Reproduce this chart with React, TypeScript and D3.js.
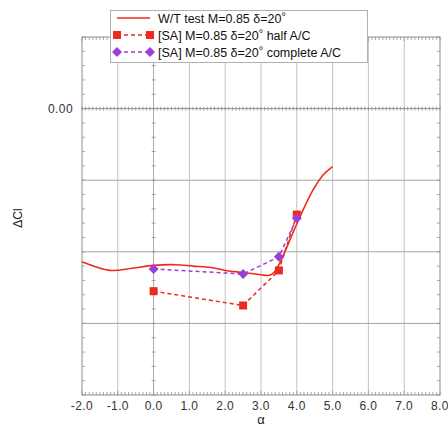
import React from "react";
import * as d3 from "d3";

const wtAlpha = [-2.0, -1.22, -0.6, 0.0, 0.6, 1.1, 1.6, 2.0, 2.5, 3.0, 3.2, 3.34, 3.53, 3.81, 4.09, 4.45, 4.73, 5.0];
const wtDCl = [-0.214, -0.226, -0.223, -0.219, -0.218, -0.22, -0.222, -0.226, -0.229, -0.232, -0.233, -0.23, -0.215, -0.183, -0.151, -0.114, -0.093, -0.081];

const halfAlpha = [0.0, 2.5, 3.5, 4.0];
const halfDCl = [-0.255, -0.275, -0.226, -0.148];

const compAlpha = [0.0, 2.5, 3.5, 4.0];
const compDCl = [-0.224, -0.231, -0.207, -0.153];

const xTicks = [-2, -1, 0, 1, 2, 3, 4, 5, 6, 7, 8];
const yGrid = [-0.1, -0.2, -0.3];
const yLabelTicks = [0];

const legendLabels = [
  "W/T test M=0.85 \u03b4=20",
  "[SA] M=0.85 \u03b4=20",
  "[SA] M=0.85 \u03b4=20",
];
const legendSuffix = ["", " half A/C", " complete A/C"];

const RED = "#ee2a1f";
const PURPLE = "#9b3fd6";
const FONT = "'Liberation Sans', Arial, sans-serif";

export default function App() {
  const W = 448, H = 429;
  const L = 82, R = 440, T = 37, B = 395;
  const x = d3.scaleLinear().domain([-2, 8]).range([L, R]);
  const y = d3.scaleLinear().domain([-0.4, 0.1]).range([B, T]);

  const line = d3.line<[number, number]>().x(d => x(d[0])).y(d => y(d[1]));
  const smooth = d3.line<[number, number]>().x(d => x(d[0])).y(d => y(d[1])).curve(d3.curveCatmullRom.alpha(0.5));

  const wt: [number, number][] = wtAlpha.map((a, i) => [a, wtDCl[i]]);
  const half: [number, number][] = halfAlpha.map((a, i) => [a, halfDCl[i]]);
  const comp: [number, number][] = compAlpha.map((a, i) => [a, compDCl[i]]);

  const xMinor = d3.range(-20, 81).map(v => v / 10);
  const yMinor = d3.range(-20, 6).map(v => v / 50);

  const sq = 8;
  const dm = 5;
  const diamond = (cx: number, cy: number) => `M${cx},${cy - dm}L${cx + dm},${cy}L${cx},${cy + dm}L${cx - dm},${cy}Z`;

  const gridC = "#c4c4c4";
  const axC = "#909090";

  return (
    <svg width={W} height={H} style={{ position: "absolute", left: 0, top: 0 }}>
      <rect x={0} y={0} width={W} height={H} fill="#fff" />
      {xTicks.filter(t => t > -2 && t < 8).map(t => (
        <line key={"vg" + t} x1={x(t)} x2={x(t)} y1={T} y2={B} stroke={t === 0 ? "#a8a8a8" : gridC} strokeWidth={1} />
      ))}
      {yGrid.map(t => (
        <line key={"hg" + t} x1={L} x2={R} y1={y(t)} y2={y(t)} stroke="#a4a4a4" strokeWidth={1} />
      ))}
      <line x1={L} x2={R} y1={y(0)} y2={y(0)} stroke={axC} strokeWidth={1} />
      {xMinor.map(t => (
        <line key={"zt" + t} x1={x(t)} x2={x(t)} y1={y(0) - 2} y2={y(0) + 2} stroke={axC} strokeWidth={0.8} />
      ))}
      {yMinor.map(t => (
        <line key={"vt" + t} x1={x(0) - 2} x2={x(0) + 2} y1={y(t)} y2={y(t)} stroke={axC} strokeWidth={0.8} />
      ))}
      <rect x={L} y={T} width={R - L} height={B - T} fill="none" stroke={axC} strokeWidth={1} />
      {xMinor.map(t => (
        <g key={"ft" + t}>
          <line x1={x(t)} x2={x(t)} y1={T} y2={T + (Number.isInteger(t) ? 4 : 3)} stroke={axC} strokeWidth={0.8} />
          <line x1={x(t)} x2={x(t)} y1={B} y2={B - (Number.isInteger(t) ? 4 : 3)} stroke={axC} strokeWidth={0.8} />
        </g>
      ))}
      {yMinor.map(t => (
        <g key={"fy" + t}>
          <line x1={L} x2={L + 3} y1={y(t)} y2={y(t)} stroke={axC} strokeWidth={0.8} />
          <line x1={R} x2={R - 3} y1={y(t)} y2={y(t)} stroke={axC} strokeWidth={0.8} />
        </g>
      ))}
      {xTicks.map(t => (
        <text key={"xl" + t} x={x(t)} y={410} textAnchor="middle" fontFamily={FONT} fontSize={12} fill="#333" letterSpacing={0.4}>
          {t.toFixed(1)}
        </text>
      ))}
      {yLabelTicks.map(t => (
        <text key={"yl" + t} x={73} y={y(t) + 4} textAnchor="end" fontFamily={FONT} fontSize={12} fill="#333" letterSpacing={0.4}>
          {t.toFixed(2)}
        </text>
      ))}
      <text x={261} y={424} textAnchor="middle" fontFamily={FONT} fontSize={13} fill="#222">α</text>
      <text transform={`translate(22,${(T + B) / 2 + 2}) rotate(-90)`} textAnchor="middle" fontFamily={FONT} fontSize={12} fill="#222">ΔCl</text>

      <path d={smooth(wt) || ""} fill="none" stroke={RED} strokeWidth={1.6} />
      <path d={line(half) || ""} fill="none" stroke={RED} strokeWidth={1.5} strokeDasharray="4,3" />
      <path d={line(comp) || ""} fill="none" stroke={PURPLE} strokeWidth={1.5} strokeDasharray="4,3" />
      {half.map((d, i) => (
        <rect key={"hs" + i} x={x(d[0]) - sq / 2} y={y(d[1]) - sq / 2} width={sq} height={sq} fill={RED} />
      ))}
      {comp.map((d, i) => (
        <path key={"cd" + i} d={diamond(x(d[0]), y(d[1]))} fill={PURPLE} />
      ))}

      <rect x={110.5} y={10.5} width={257} height={52} fill="#fff" stroke="#b0b0b0" strokeWidth={1} />
      {[0, 1, 2].map(i => {
        const ly = 18 + i * 17;
        return (
          <g key={"lg" + i}>
            {i === 0 && <line x1={117} x2={150} y1={ly} y2={ly} stroke={RED} strokeWidth={1.6} />}
            {i === 1 && (
              <g>
                <line x1={117} x2={150} y1={ly} y2={ly} stroke={RED} strokeWidth={1.5} strokeDasharray="4,3" />
                <rect x={117 - 4} y={ly - 4} width={8} height={8} fill={RED} />
                <rect x={150 - 4} y={ly - 4} width={8} height={8} fill={RED} />
              </g>
            )}
            {i === 2 && (
              <g>
                <line x1={117} x2={150} y1={ly} y2={ly} stroke={PURPLE} strokeWidth={1.5} strokeDasharray="4,3" />
                <path d={diamond(117, ly)} fill={PURPLE} />
                <path d={diamond(150, ly)} fill={PURPLE} />
              </g>
            )}
            <text x={158} y={ly + 4.5} fontFamily={FONT} fontSize={12.5} fill="#111">
              {legendLabels[i]}
              <tspan dy={-3} fontSize={11}>°</tspan>
              <tspan dy={3}>{legendSuffix[i]}</tspan>
            </text>
          </g>
        );
      })}
    </svg>
  );
}
